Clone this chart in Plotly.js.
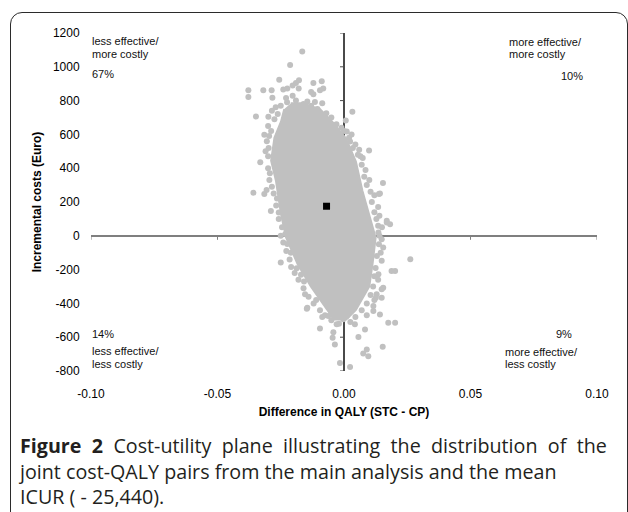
<!DOCTYPE html>
<html>
<head>
<meta charset="utf-8">
<script src="https://cdn.plot.ly/plotly-3.0.1.min.js"></script>
<style>
  html, body { margin: 0; padding: 0; background: #fff; overflow: hidden; }
  #frame { position: absolute; left: 10px; top: 12px; width: 616px; height: 560px;
           border: 1.5px solid #2b2b2b; border-radius: 12px; }
  #chart { position: absolute; left: 0; top: 0; width: 628px; height: 512px; }
</style>
</head>
<body>
<div id="frame"></div>
<div id="chart"></div>
<script>
// ---------- data ----------
const xTickVals = [-0.10, -0.05, 0.00, 0.05, 0.10];
const xTickText = ['-0.10', '-0.05', '0.00', '0.05', '0.10'];
const yTickVals = [-800, -600, -400, -200, 0, 200, 400, 600, 800, 1000, 1200];
const yTickText = ['-800', '-600', '-400', '-200', '0', '200', '400', '600', '800', '1000', '1200'];

// dense core of the bootstrap cloud (outline)
const coreQaly = [-0.0210, -0.0165, -0.0095, -0.0045, 0.0008, 0.0047, 0.0073, 0.0100, 0.0125, 0.0113, 0.0100, 0.0047, 0.0009, -0.0041, -0.0066, -0.0131, -0.0184, -0.0229, -0.0249, -0.0269, -0.0288, -0.0275, -0.0249, -0.0236];
const coreCost = [785, 785, 750, 672, 575, 440, 265, 129, -10, -165, -300, -438, -495, -495, -438, -300, -165, -10, 129, 326, 445, 580, 675, 750];

// individually visible cost-QALY pairs around the core
const pairQaly = [
  -0.0165, -0.0213, -0.0256, -0.0178, -0.0190, -0.0203, -0.0224, -0.0240, -0.0378, -0.0378,
  -0.0319, -0.0286, -0.0283, -0.0229, -0.0203, -0.0179, -0.0121, -0.0088, -0.0082, -0.0095,
  -0.0130, -0.0121, -0.0145, -0.0115, -0.0086, -0.0348, -0.0299, 0.0033, 0.0007, -0.0315,
  -0.0331, -0.0358, -0.0315, -0.0306, 0.0060, 0.0099, 0.0074, 0.0154, 0.0142, 0.0024,
  0.0011, -0.0289, -0.0258, -0.0250, -0.0209, -0.0187, -0.0158, -0.0154, -0.0145, -0.0232,
  -0.0224, 0.0138, 0.0140, 0.0169, 0.0136, 0.0149, 0.0155, 0.0149, 0.0136, 0.0155,
  0.0126, 0.0116, 0.0188, 0.0202, 0.0182, 0.0169, 0.0262, 0.0153, 0.0090, 0.0096,
  0.0076, -0.0016, 0.0024, -0.0036, -0.0045, -0.0042, -0.0095, -0.0086, -0.0147, 0.0057,
  0.0083, 0.0043, 0.0011, 0.0116, 0.0142, 0.0175, 0.0202, 0.0149, 0.0129, 0.0149,
  -0.0029, -0.0003, -0.0062, -0.0270, -0.0285, -0.0300, -0.0305, -0.0310, -0.0300, -0.0295,
  -0.0010, 0.0030, 0.0045, 0.0065, 0.0085, 0.0100, 0.0120, 0.0135, 0.0150, 0.0145,
  0.0135, 0.0120, 0.0090, -0.0110, -0.0170, -0.0210, -0.0245, -0.0265,
  -0.0225, -0.0250, -0.0262, -0.0275, -0.0288, -0.0296, -0.0298, -0.0300, -0.0293, -0.0285,
  -0.0278, -0.0268, -0.0258, -0.0250, -0.0240, -0.0228, -0.0215, -0.0195, -0.0180, -0.0160,
  -0.0140, -0.0120, -0.0095, -0.0075, -0.0050, -0.0020, -0.0190, -0.0160, -0.0130, -0.0105,
  -0.0070, -0.0050, -0.0030, 0.0000, 0.0020, 0.0035, 0.0055, 0.0070, 0.0080, 0.0090,
  0.0105, 0.0110, 0.0120, 0.0128, 0.0135, 0.0140, 0.0138, 0.0130, 0.0125, 0.0120,
  0.0115, 0.0105, 0.0090, 0.0070, 0.0045, 0.0025
];
const pairCost = [
  1090, 1011, 924, 920, 904, 890, 872, 865, 861, 821,
  861, 861, 817, 815, 829, 872, 904, 914, 871, 861,
  851, 837, 795, 791, 785, 706, 704, 734, 682, 598,
  435, 255, 247, 271, 509, 504, 461, 313, 251, 558,
  617, 147, 138, -158, -184, -192, -271, -346, -425, 10,
  -49, 247, 119, 79, 20, -20, -69, -148, -227, -307,
  -366, -415, -208, -208, 69, 89, -139, -657, -673, -712,
  -696, -752, -776, -643, -603, -570, -548, -481, -431, -599,
  -554, -524, -475, -445, -465, -515, -515, -366, -346, -316,
  -524, -494, -475, 760, 740, 650, 560, 500, 400, 330,
  640, 600, 540, 470, 390, 330, 240, 170, 50, -100,
  -260, -380, -470, -380, -230, -100, 50, 220,
  790, 770, 720, 690, 620, 590, 520, 470, 370, 290,
  250, 180, 100, 0, -40, -90, -140, -220, -260, -310,
  -360, -400, -440, -470, -500, -520, 800, 780, 770, 750,
  725, 700, 660, 620, 580, 520, 480, 420, 350, 300,
  260, 200, 140, 100, 60, 0, -50, -120, -190, -240,
  -300, -350, -400, -440, -480, -510
];

// mean ICUR point
const meanQaly = [-0.0069];
const meanCost = [175];

// quadrant labels and caption
const quadrantLines = [
  ['less effective/', 90, 41, 'left'], ['more costly', 90, 54, 'left'], ['67%', 90, 74, 'left'],
  ['more effective/', 507, 42, 'left'], ['more costly', 507, 54, 'left'], ['10%', 585, 76, 'right'],
  ['14%', 90, 334, 'left'], ['less effective/', 90, 351, 'left'], ['less costly', 90, 364, 'left'],
  ['9%', 574, 334, 'right'], ['more effective/', 503, 352, 'left'], ['less costly', 503, 364, 'left']
];
const captionLines = [
  '<b>Figure 2</b> Cost-utility plane illustrating the distribution of the',
  'joint cost-QALY pairs from the main analysis and the mean',
  'ICUR ( - 25,440).'
];

// ---------- layout helpers ----------
const W = 628, H = 512;
const M = {l: 91, r: 31, t: 33, b: 141};
const pw = W - M.l - M.r, ph = H - M.t - M.b;
const px = X => (X - M.l) / pw;
const py = Y => (H - M.b - Y) / ph;

const annotations = [];
quadrantLines.forEach(([t, X, Y, anchor]) => {
  annotations.push({text: t, xref: 'paper', yref: 'paper', x: px(X), y: py(Y),
    xanchor: anchor, yanchor: 'middle', showarrow: false,
    font: {family: 'Liberation Sans, Arial, sans-serif', size: 11, color: '#111'}});
});
// first caption line is justified in the source: widen its word gaps with thin + hair spaces
const justified = captionLines[0].replace(/ (?![^<]*>)/g, ' \u2009\u200A');
annotations.push({text: [justified, captionLines[1], captionLines[2]].join('<br>'),
  xref: 'paper', yref: 'paper', x: px(16), y: py(471),
  xanchor: 'left', yanchor: 'middle', showarrow: false, align: 'left',
  font: {family: 'Open Sans, sans-serif', size: 19.7, color: '#231f20'}});

const shapes = [];
xTickVals.forEach(v => {
  if (v !== 0) shapes.push({type: 'line', xref: 'x', yref: 'y', layer: 'below',
    x0: v, x1: v, ysizemode: 'pixel', yanchor: 0, y0: 0, y1: -4,
    line: {color: '#7f7f7f', width: 1}});
});
yTickVals.forEach(v => {
  if (v !== 0) shapes.push({type: 'line', xref: 'x', yref: 'y', layer: 'below',
    y0: v, y1: v, xsizemode: 'pixel', xanchor: 0, x0: 0, x1: -4,
    line: {color: '#4a4a4a', width: 1}});
});

const traces = [
  {type: 'scatter', mode: 'lines', x: coreQaly, y: coreCost, fill: 'toself',
   fillcolor: '#c0c0c0', line: {color: '#c0c0c0', width: 2}, hoverinfo: 'skip', showlegend: false},
  {type: 'scatter', mode: 'markers', x: pairQaly, y: pairCost,
   marker: {color: '#c0c0c0', size: 6}, showlegend: false},
  {type: 'scatter', mode: 'markers', x: meanQaly, y: meanCost,
   marker: {color: '#000', size: 7, symbol: 'square'}, showlegend: false}
];

const axisFont = {family: 'Liberation Sans, Arial, sans-serif', size: 12, color: '#000'};
const titleFont = {family: 'Liberation Sans, Arial, sans-serif', size: 12, color: '#000'};
const layout = {
  width: W, height: H, margin: M,
  paper_bgcolor: 'rgba(0,0,0,0)', plot_bgcolor: 'rgba(0,0,0,0)',
  showlegend: false,
  xaxis: {range: [-0.1, 0.1], tickvals: xTickVals, ticktext: xTickText, showgrid: false,
    zeroline: true, zerolinecolor: '#4a4a4a', zerolinewidth: 1.5, showline: false,
    ticks: 'outside', ticklen: 12, tickcolor: 'rgba(0,0,0,0)', tickfont: axisFont,
    title: {text: '<b>Difference in QALY (STC - CP)</b>', standoff: 7, font: titleFont}},
  yaxis: {range: [-800, 1200], tickvals: yTickVals, ticktext: yTickText, showgrid: false,
    zeroline: true, zerolinecolor: '#7f7f7f', zerolinewidth: 2, showline: false,
    ticks: 'outside', ticklen: 8, tickcolor: 'rgba(0,0,0,0)', tickfont: axisFont,
    title: {text: '<b>Incremental costs (Euro)</b>', standoff: 8, font: titleFont}},
  annotations: annotations,
  shapes: shapes
};

Plotly.newPlot('chart', traces, layout, {displayModeBar: false, staticPlot: true});
</script>
</body>
</html>
